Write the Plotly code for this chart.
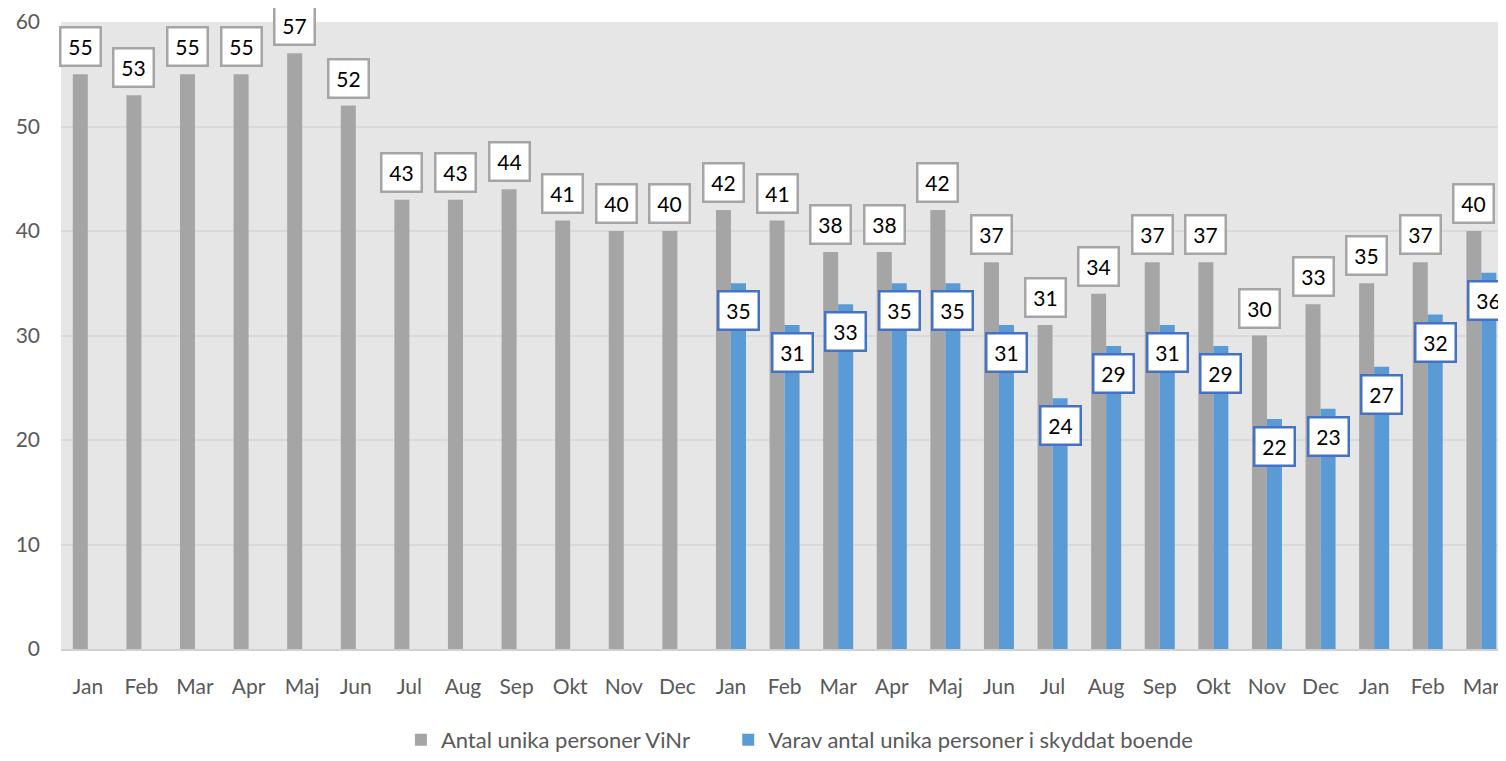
import plotly.graph_objects as go

months = ["Jan", "Feb", "Mar", "Apr", "Maj", "Jun", "Jul", "Aug", "Sep", "Okt", "Nov", "Dec",
          "Jan", "Feb", "Mar", "Apr", "Maj", "Jun", "Jul", "Aug", "Sep", "Okt", "Nov", "Dec",
          "Jan", "Feb", "Mar"]
antal_vinr = [55, 53, 55, 55, 57, 52, 43, 43, 44, 41, 40, 40,
              42, 41, 38, 38, 42, 37, 31, 34, 37, 37, 30, 33, 35, 37, 40]
skyddat = [None] * 12 + [35, 31, 33, 35, 35, 31, 24, 29, 31, 29, 22, 23, 27, 32, 36]

name_grey = "Antal unika personer ViNr"
name_blue = "Varav antal unika personer i skyddat boende"

GREY = "#A5A5A5"
BLUE = "#5B9BD5"
FONT = "Lato"
TXT = "#595959"

idx = list(range(len(months)))

fig = go.Figure()
fig.add_trace(go.Bar(x=idx, y=antal_vinr, name=name_grey + "\u00a0" * 6, marker_color=GREY,
                     marker_line_width=0))
fig.add_trace(go.Bar(x=idx, y=skyddat, name=name_blue, marker_color=BLUE,
                     marker_line_width=0))

off = 0.14
annotations = []
for i, v in zip(idx, antal_vinr):
    annotations.append(dict(x=i - off, y=v, xref="x", yref="y", text=str(v),
                            showarrow=False, yanchor="bottom", yshift=7,
                            font=dict(family=FONT, size=21, color="#000000"),
                            bgcolor="#FFFFFF", bordercolor="#A5A5A5", borderwidth=2.5,
                            borderpad=4, width=30, height=28))
for i, v in zip(idx, skyddat):
    if v is None:
        continue
    annotations.append(dict(x=i + off, y=v, xref="x", yref="y", text=str(v),
                            showarrow=False, yanchor="top", yshift=-7,
                            font=dict(family=FONT, size=21, color="#000000"),
                            bgcolor="#FFFFFF", bordercolor="#4472C4", borderwidth=2.5,
                            borderpad=4, width=30, height=28))

fig.update_layout(
    width=1498, height=753,
    margin=dict(l=53, r=0, t=14, b=103),
    paper_bgcolor="#FFFFFF",
    plot_bgcolor="#E6E6E6",
    barmode="group",
    bargap=0.44,
    bargroupgap=0,
    font=dict(family=FONT, size=21, color=TXT),
    showlegend=True,
    legend=dict(orientation="h", x=0.511, xanchor="center", y=-0.145, yanchor="middle",
                font=dict(family=FONT, size=22, color=TXT), itemwidth=30,
                bgcolor="rgba(0,0,0,0)"),
    annotations=annotations,
    xaxis=dict(tickmode="array", tickvals=idx, ticktext=months,
               range=[-0.5, 26.46], showgrid=False, zeroline=False,
               showline=True, linecolor="#D0D0D0", linewidth=2,
               ticks="", ticklabelstandoff=18, ticklabeloverflow="allow",
               tickfont=dict(family=FONT, size=21, color=TXT)),
    yaxis=dict(range=[0, 60], tickvals=[0, 10, 20, 30, 40, 50, 60],
               showgrid=True, gridcolor="#D9D9D9", gridwidth=1.5,
               zeroline=False, showline=False, ticks="",
               ticklabelstandoff=20,
               tickfont=dict(family=FONT, size=21, color=TXT)),
)

fig.write_html("out.html")
